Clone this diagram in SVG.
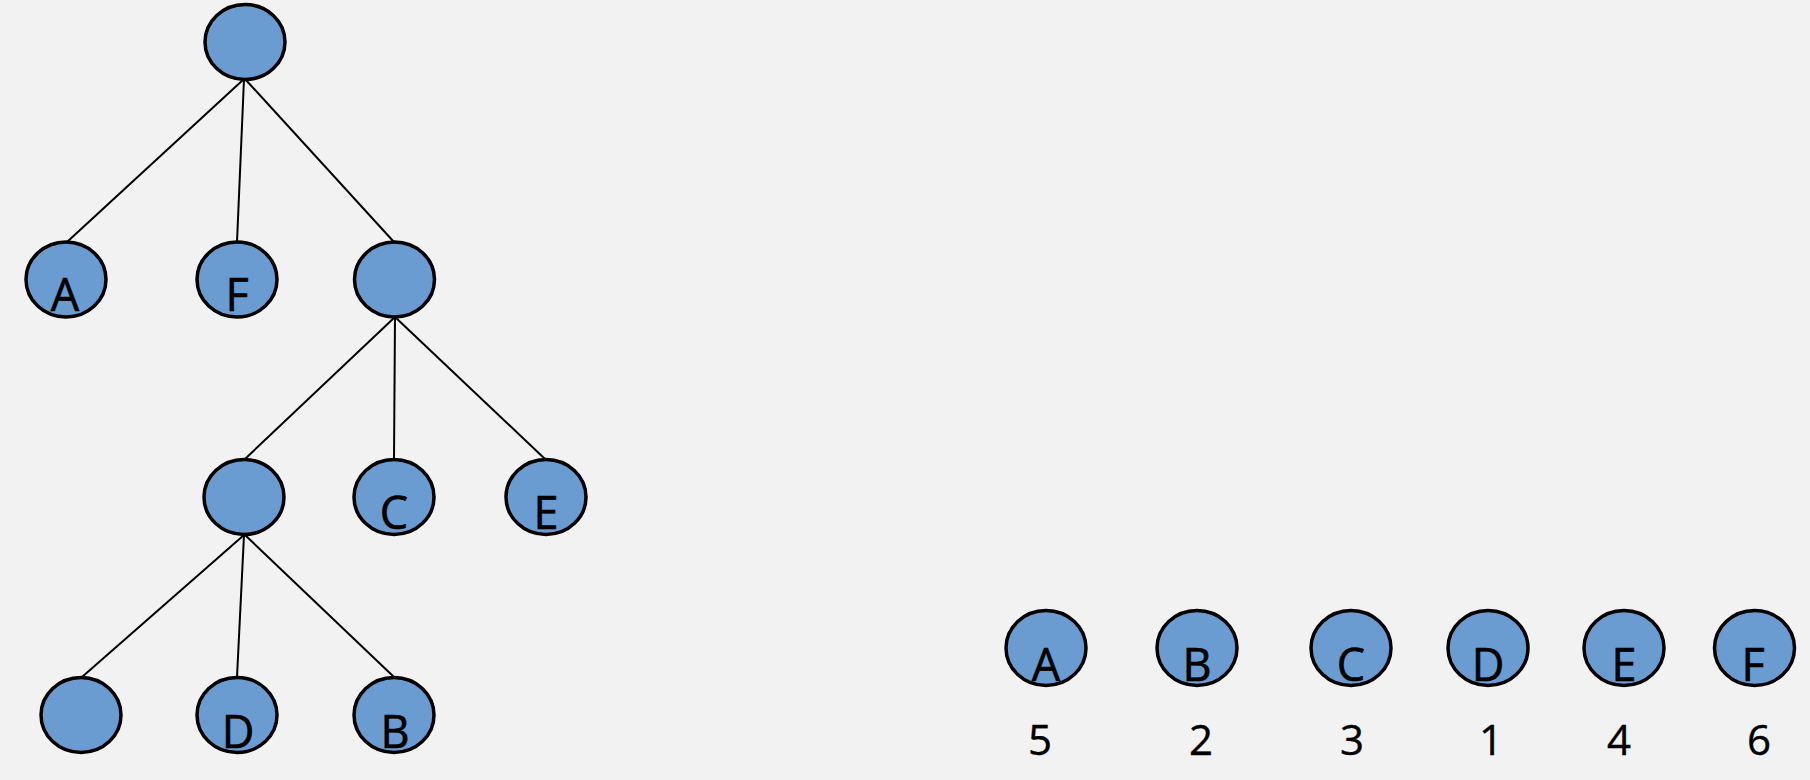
<svg xmlns="http://www.w3.org/2000/svg" width="1810" height="780" viewBox="0 0 1810 780">
<style>
.n{fill:#6a9bd1;stroke:#000;stroke-width:3.5}
.t{font-family:"Open Sans","Liberation Sans",Arial,sans-serif;font-size:45px;fill:#000;stroke:#000;stroke-width:0.6;text-anchor:middle}
.d{font-family:"Open Sans","Liberation Sans",Arial,sans-serif;font-size:42px;fill:#000;stroke:#000;stroke-width:0.4;text-anchor:middle}
.e{stroke:#000;stroke-width:2;fill:none}
</style>
<rect width="1810" height="780" fill="#f2f2f2"/>
<g id="connectors">
<line class="e" x1="244" y1="79" x2="67" y2="242"/>
<line class="e" x1="244" y1="79" x2="237" y2="242"/>
<line class="e" x1="245" y1="79" x2="394" y2="242"/>
<line class="e" x1="395" y1="317" x2="245" y2="459"/>
<line class="e" x1="395" y1="317" x2="394" y2="459"/>
<line class="e" x1="395" y1="317" x2="545" y2="459"/>
<line class="e" x1="244" y1="535" x2="82" y2="677"/>
<line class="e" x1="244" y1="535" x2="237" y2="677"/>
<line class="e" x1="245" y1="535" x2="394" y2="677"/>
</g>
<g id="root"><ellipse class="n" cx="245" cy="42" rx="40" ry="37.5"/></g>
<g id="nodeA1"><ellipse class="n" cx="66" cy="279.5" rx="40" ry="37.5"/><text class="t" x="65" y="311">A</text></g>
<g id="nodeF1"><ellipse class="n" cx="237" cy="279.5" rx="40" ry="37.5"/><text class="t" x="237" y="311">F</text></g>
<g id="nodeR1"><ellipse class="n" cx="394.5" cy="279.5" rx="40" ry="37.5"/></g>
<g id="nodeL2"><ellipse class="n" cx="244" cy="497" rx="40" ry="37.5"/></g>
<g id="nodeC2"><ellipse class="n" cx="394" cy="497" rx="40" ry="37.5"/><text class="t" x="394" y="529">C</text></g>
<g id="nodeE2"><ellipse class="n" cx="546" cy="497" rx="40" ry="37.5"/><text class="t" x="546" y="529">E</text></g>
<g id="nodeL3"><ellipse class="n" cx="81" cy="715" rx="40" ry="37.5"/></g>
<g id="nodeD3"><ellipse class="n" cx="237" cy="715" rx="40" ry="37.5"/><text class="t" x="238" y="748">D</text></g>
<g id="nodeB3"><ellipse class="n" cx="394" cy="715" rx="40" ry="37.5"/><text class="t" x="395" y="748">B</text></g>
<g id="listA"><ellipse class="n" cx="1046" cy="648" rx="40" ry="37.5"/><text class="t" x="1046" y="681">A</text><text class="d" x="1040" y="755">5</text></g>
<g id="listB"><ellipse class="n" cx="1197" cy="648" rx="40" ry="37.5"/><text class="t" x="1197" y="681">B</text><text class="d" x="1201" y="755">2</text></g>
<g id="listC"><ellipse class="n" cx="1351" cy="648" rx="40" ry="37.5"/><text class="t" x="1351" y="681">C</text><text class="d" x="1352" y="755">3</text></g>
<g id="listD"><ellipse class="n" cx="1488" cy="648" rx="40" ry="37.5"/><text class="t" x="1488" y="681">D</text><text class="d" x="1491" y="755">1</text></g>
<g id="listE"><ellipse class="n" cx="1624" cy="648" rx="40" ry="37.5"/><text class="t" x="1624" y="681">E</text><text class="d" x="1619" y="755">4</text></g>
<g id="listF"><ellipse class="n" cx="1754.5" cy="648" rx="40" ry="37.5"/><text class="t" x="1753" y="681">F</text><text class="d" x="1759" y="755">6</text></g>
</svg>
